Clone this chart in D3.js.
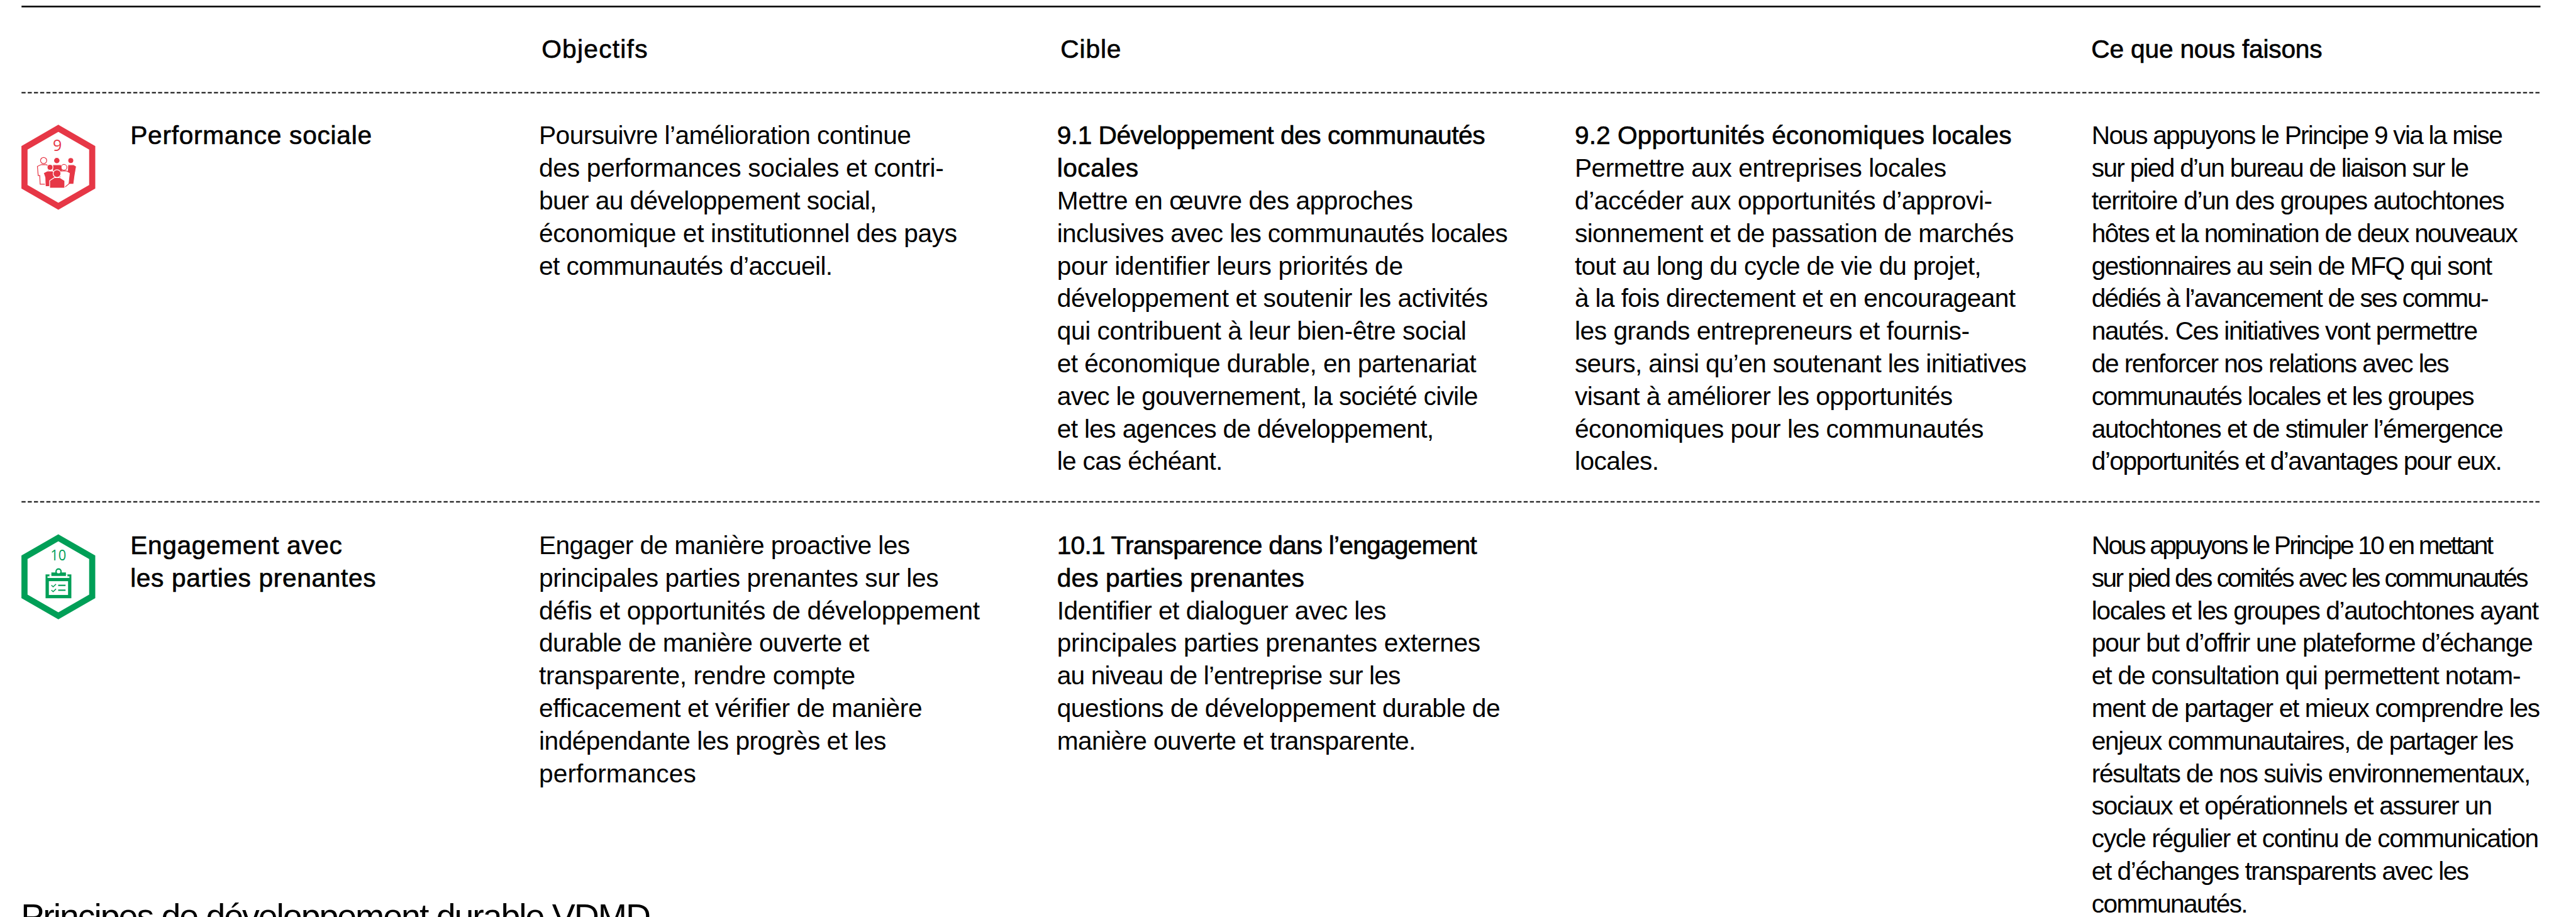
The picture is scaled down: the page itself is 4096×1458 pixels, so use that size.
<!DOCTYPE html>
<html>
<head>
<meta charset="utf-8">
<script src="https://cdn.jsdelivr.net/npm/d3@7"></script>
<style>
  html, body { margin: 0; padding: 0; background: #fff; overflow: hidden; }
  text { font-family: "Liberation Sans", sans-serif; fill: #000; }
</style>
</head>
<body>
<div id="table_container"></div>
<script>
const headers = ["Objectifs", "Cible", "Ce que nous faisons"];

const perfTitle = ["Performance sociale"];
const perfObjectif = [
  "Poursuivre l’amélioration continue",
  "des performances sociales et contri-",
  "buer au développement social,",
  "économique et institutionnel des pays",
  "et communautés d’accueil."
];
const cible91Head = ["9.1 Développement des communautés", "locales"];
const cible91 = [
  "Mettre en œuvre des approches",
  "inclusives avec les communautés locales",
  "pour identifier leurs priorités de",
  "développement et soutenir les activités",
  "qui contribuent à leur bien-être social",
  "et économique durable, en partenariat",
  "avec le gouvernement, la société civile",
  "et les agences de développement,",
  "le cas échéant."
];
const cible92Head = ["9.2 Opportunités économiques locales"];
const cible92 = [
  "Permettre aux entreprises locales",
  "d’accéder aux opportunités d’approvi-",
  "sionnement et de passation de marchés",
  "tout au long du cycle de vie du projet,",
  "à la fois directement et en encourageant",
  "les grands entrepreneurs et fournis-",
  "seurs, ainsi qu’en soutenant les initiatives",
  "visant à améliorer les opportunités",
  "économiques pour les communautés",
  "locales."
];
const perfFaisons = [
  "Nous appuyons le Principe 9 via la mise",
  "sur pied d’un bureau de liaison sur le",
  "territoire d’un des groupes autochtones",
  "hôtes et la nomination de deux nouveaux",
  "gestionnaires au sein de MFQ qui sont",
  "dédiés à l’avancement de ses commu-",
  "nautés. Ces initiatives vont permettre",
  "de renforcer nos relations avec les",
  "communautés locales et les groupes",
  "autochtones et de stimuler l’émergence",
  "d’opportunités et d’avantages pour eux."
];

const engTitle = ["Engagement avec", "les parties prenantes"];
const engObjectif = [
  "Engager de manière proactive les",
  "principales parties prenantes sur les",
  "défis et opportunités de développement",
  "durable de manière ouverte et",
  "transparente, rendre compte",
  "efficacement et vérifier de manière",
  "indépendante les progrès et les",
  "performances"
];
const cible101Head = ["10.1 Transparence dans l’engagement", "des parties prenantes"];
const cible101 = [
  "Identifier et dialoguer avec les",
  "principales parties prenantes externes",
  "au niveau de l’entreprise sur les",
  "questions de développement durable de",
  "manière ouverte et transparente."
];
const engFaisons = [
  "Nous appuyons le Principe 10 en mettant",
  "sur pied des comités avec les communautés",
  "locales et les groupes d’autochtones ayant",
  "pour but d’offrir une plateforme d’échange",
  "et de consultation qui permettent notam-",
  "ment de partager et mieux comprendre les",
  "enjeux communautaires, de partager les",
  "résultats de nos suivis environnementaux,",
  "sociaux et opérationnels et assurer un",
  "cycle régulier et continu de communication",
  "et d’échanges transparents avec les",
  "communautés."
];
const bottomTitle = "Principes de développement durable VDMD";

const svgWidth = 4096;
const svgHeight = 1458;
const k = 0.925; // reference px -> window px

const svg = d3.select("#table_container")
  .append("svg")
  .attr("width", svgWidth)
  .attr("height", svgHeight)
  .style("display", "block")
  .append("g")
  .attr("transform", "scale(" + k + ")");

// the reference font sets tighter or looser line by line, so each line gets its measured width
const fit = {
  perfTitle: [411], perfObjectif: [636, 692, 577, 715, 501],
  cible91Head: [732, 136], cible91: [608, 771, 591, 737, 700, 717, 720, 644, 281],
  cible92Head: [747], cible92: [635, 714, 751, 695, 754, 675, 773, 646, 699, 141],
  perfFaisons: [703, 645, 706, 729, 685, 679, 660, 611, 654, 704, 702],
  engTitle: [360, 418], engObjectif: [634, 683, 754, 564, 540, 655, 593, 266],
  cible101Head: [718, 421], cible101: [562, 724, 587, 758, 613],
  engFaisons: [687, 747, 765, 755, 734, 767, 722, 751, 685, 765, 645, 265]
};

const leading = 56;
const colX = { title: 224, objectif: 926.5, c1: 1817, c2: 2707, faisons: 3595.5 };
const rowTop = { head: 99, perf: 248, eng: 952.5 };

function lines(list, widths, x, y0, medium) {
  const yScale = d3.scaleLinear().domain([0, 1]).range([y0, y0 + leading]);
  svg.append("g").selectAll("text")
    .data(list)
    .enter()
    .append("text")
    .attr("x", x)
    .attr("y", function(d, i) { return yScale(i); })
    .attr("textLength", function(d, i) { return widths[i] + 4; })
    .attr("lengthAdjust", "spacing")
    .style("font-size", "44px")
    .style("stroke", medium ? "#000" : "none")
    .style("stroke-width", medium ? 0.7 : 0)
    .text(function(d) { return d; });
}

// rules
svg.append("line").attr("x1", 37).attr("x2", 4367).attr("y1", 11.3).attr("y2", 11.3)
  .style("stroke", "#111").style("stroke-width", 3);
[159.3, 862.5].forEach(function(y) {
  svg.append("line").attr("x1", 37).attr("x2", 4367).attr("y1", y).attr("y2", y)
    .style("stroke", "#222").style("stroke-width", 2.5).style("stroke-dasharray", "7 3.67");
});

// header row
lines([headers[0]], [178], 931, rowTop.head, true);
lines([headers[1]], [100], 1823, rowTop.head, true);
lines([headers[2]], [393], 3595, rowTop.head, true);

// performance sociale
lines(perfTitle, fit.perfTitle, colX.title, rowTop.perf, true);
lines(perfObjectif, fit.perfObjectif, colX.objectif, rowTop.perf);
lines(cible91Head, fit.cible91Head, colX.c1, rowTop.perf, true);
lines(cible91, fit.cible91, colX.c1, rowTop.perf + 2 * leading);
lines(cible92Head, fit.cible92Head, colX.c2, rowTop.perf, true);
lines(cible92, fit.cible92, colX.c2, rowTop.perf + leading);
lines(perfFaisons, fit.perfFaisons, colX.faisons, rowTop.perf);

// engagement
lines(engTitle, fit.engTitle, colX.title, rowTop.eng, true);
lines(engObjectif, fit.engObjectif, colX.objectif, rowTop.eng);
lines(cible101Head, fit.cible101Head, colX.c1, rowTop.eng, true);
lines(cible101, fit.cible101, colX.c1, rowTop.eng + 2 * leading);
lines(engFaisons, fit.engFaisons, colX.faisons, rowTop.eng);

// section title, cut by the bottom edge as in the reference
svg.append("text")
  .attr("x", 36)
  .attr("y", 1596)
  .attr("textLength", 1083)
  .attr("lengthAdjust", "spacing")
  .style("font-size", "60px")
  .text(bottomTitle);

// icons
function hexagon(cx, top, bottom, color) {
  const w = 58.2, h = bottom - top, s = 0.25 * h;
  const pts = [[0, 0], [w, s], [w, h - s], [0, h], [-w, h - s], [-w, s]];
  const line = d3.line().curve(d3.curveLinearClosed);
  svg.append("path")
    .attr("transform", "translate(" + cx + "," + top + ")")
    .attr("d", line(pts))
    .style("fill", "#fff")
    .style("stroke", color)
    .style("stroke-width", 10.5)
    .style("stroke-linejoin", "miter");
}

const red = "#e63746";
const green = "#009f57";

hexagon(100.3, 220.5, 354.5, red);
svg.append("text").attr("x", 98.5).attr("y", 260).attr("text-anchor", "middle")
  .style("font-size", "27px").style("font-family", "'Open Sans'").style("fill", red).text("9");

// group of people, drawn in the units of a 3x crop of the icon
const people = svg.append("g").attr("transform", "translate(0,190) scale(0.3333)");
function person(head, r, body, filled) {
  people.append("path").attr("d", body)
    .style("fill", filled ? red : "#fff")
    .style("stroke", filled ? "#fff" : red)
    .style("stroke-width", 4);
  people.append("circle").attr("cx", head[0]).attr("cy", head[1]).attr("r", r)
    .style("fill", filled ? red : "#fff")
    .style("stroke", filled ? "#fff" : red)
    .style("stroke-width", 4);
}
person([225, 258], 16, "M193,288 L212,279 L240,279 L252,290 L244,380 L207,380 L205,335 L197,335 Z", false);
person([293, 258], 16, "M272,279 L315,279 L322,300 L318,370 L270,370 Z", true);
person([365, 258], 15, "M350,279 L380,279 L394,288 L386,335 L380,380 L345,380 Z", true);
person([258, 293], 15, "M224,322 L243,312 L272,312 L285,330 L282,392 L234,392 L232,345 Z", true);
person([330, 293], 15, "M312,312 L345,312 L362,322 L356,378 L336,394 L305,392 Z", false);
person([294, 325], 20, "M256,362 L280,346 L310,346 L334,362 L334,400 L256,400 Z", true);

hexagon(100.3, 924.5, 1058.5, green);
svg.append("text").attr("x", 100.3).attr("y", 963.5).attr("text-anchor", "middle")
  .attr("textLength", 27).attr("lengthAdjust", "spacingAndGlyphs")
  .style("font-size", "25px").style("font-family", "'Open Sans'").style("fill", green).text("10");

// clipboard, same units
const clip = svg.append("g").attr("transform", "translate(0,900) scale(0.3333)");
clip.append("rect").attr("x", 235).attr("y", 262).attr("width", 133).attr("height", 123).style("fill", green);
clip.append("rect").attr("x", 245).attr("y", 272).attr("width", 113).attr("height", 8).style("fill", "#fff");
clip.append("rect").attr("x", 255).attr("y", 262).attr("width", 93).attr("height", 18).style("fill", "#fff");
clip.append("rect").attr("x", 265).attr("y", 252).attr("width", 75).attr("height", 18).style("fill", green);
clip.append("circle").attr("cx", 302).attr("cy", 247).attr("r", 13)
  .style("fill", "#fff").style("stroke", green).style("stroke-width", 7);
clip.append("rect").attr("x", 252).attr("y", 297).attr("width", 99).attr("height", 71).style("fill", "#fff");
[318, 343].forEach(function(y) {
  clip.append("path").attr("d", "M265," + y + " l9,8 l15,-14")
    .style("fill", "none").style("stroke", green).style("stroke-width", 5);
  clip.append("rect").attr("x", 300).attr("y", y - 3).attr("width", 38).attr("height", 7).style("fill", green);
});
</script>
</body>
</html>
